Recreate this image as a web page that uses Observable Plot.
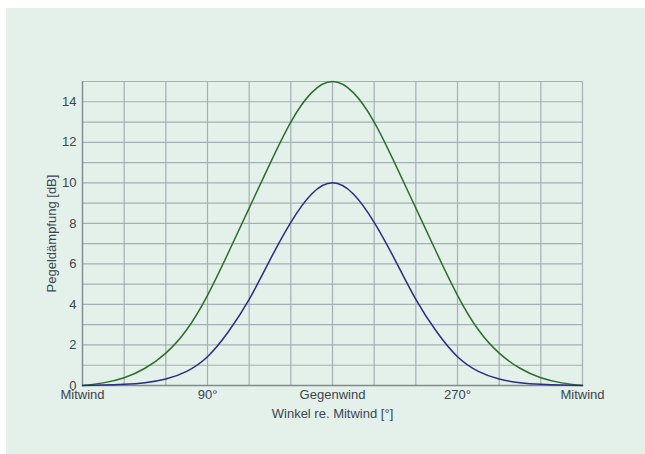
<!DOCTYPE html>
<html>
<head>
<meta charset="utf-8">
<script src="https://cdn.jsdelivr.net/npm/d3@7"></script>
<script src="https://cdn.jsdelivr.net/npm/@observablehq/plot@0.6"></script>
<style>
  html, body { margin: 0; padding: 0; background: #ffffff; }
  #chart { position: absolute; left: 6px; top: 8px; width: 639px; height: 446px; background: #e4f0ea; }
  svg { font-family: "Liberation Sans", Arial, sans-serif; }
</style>
</head>
<body>
<div id="chart"></div>
<script>
// Angle relative to tailwind (degrees)
const angles = [0, 15, 30, 45, 60, 75, 90, 105, 120, 135, 150, 165, 180, 195, 210, 225, 240, 255, 270, 285, 300, 315, 330, 345, 360];
// Upper (green) curve, dB
const greenValues = [0, 0.13, 0.38, 0.85, 1.6, 2.75, 4.45, 6.55, 8.75, 10.95, 13.0, 14.45, 15, 14.45, 13.0, 10.95, 8.75, 6.55, 4.45, 2.75, 1.6, 0.85, 0.38, 0.13, 0];
// Lower (blue) curve, dB
const blueValues = [0, 0.02, 0.06, 0.14, 0.32, 0.7, 1.42, 2.65, 4.25, 6.2, 8.05, 9.45, 10, 9.45, 8.05, 6.2, 4.25, 2.65, 1.42, 0.7, 0.32, 0.14, 0.06, 0.02, 0];

const xTickValues = [0, 90, 180, 270, 360];
const xTickLabels = ["Mitwind", "90°", "Gegenwind", "270°", "Mitwind"];
const yTickValues = [0, 2, 4, 6, 8, 10, 12, 14];
const xGrid = [0, 30, 60, 90, 120, 150, 180, 210, 240, 270, 300, 330, 360];
const yGrid = [0, 1, 2, 3, 4, 5, 6, 7, 8, 9, 10, 11, 12, 13, 14, 15];

const green = angles.map((a, i) => ({a, v: greenValues[i]}));
const blue = angles.map((a, i) => ({a, v: blueValues[i]}));

const chart = Plot.plot({
  width: 639,
  height: 446,
  marginLeft: 76,
  marginRight: 63,
  marginTop: 73,
  marginBottom: 69,
  style: {background: "transparent", fontSize: "13px", color: "#3a4652", fontFamily: "Liberation Sans, Arial, sans-serif"},
  x: {domain: [0, 360], ticks: xTickValues, tickFormat: d => xTickLabels[xTickValues.indexOf(d)], tickSize: 0, tickPadding: 4,
      label: "Winkel re. Mitwind [°]", labelAnchor: "center", labelArrow: "none", labelOffset: 32},
  y: {domain: [0, 15], ticks: yTickValues, tickSize: 0, tickPadding: 6,
      label: "Pegeldämpfung [dB]", labelAnchor: "center", labelArrow: "none", labelOffset: 36},
  marks: [
    Plot.ruleX(xGrid, {stroke: "#a3b0b4", strokeWidth: 1.2}),
    Plot.ruleY(yGrid, {stroke: "#a3b0b4", strokeWidth: 1.2}),
    Plot.ruleX([0], {stroke: "#7d8a90", strokeWidth: 1.3}),
    Plot.ruleY([0], {stroke: "#7d8a90", strokeWidth: 1.3}),
    Plot.line(green, {x: "a", y: "v", stroke: "#2c6e2a", strokeWidth: 1.5, curve: "natural"}),
    Plot.line(blue, {x: "a", y: "v", stroke: "#2a2c86", strokeWidth: 1.5, curve: "natural"})
  ]
});
document.getElementById("chart").appendChild(chart);
</script>
</body>
</html>
